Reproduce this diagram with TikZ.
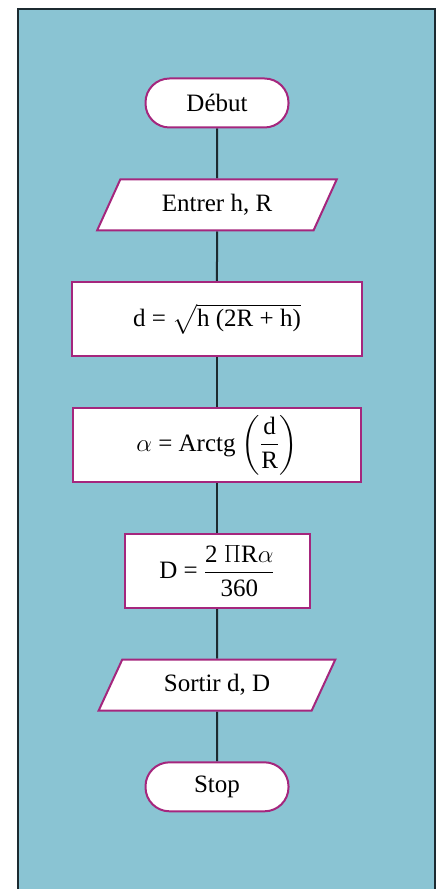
\documentclass[tikz,border=0pt]{standalone}
\usepackage{amsmath}
\usepackage{fontspec}
\setmainfont{Liberation Serif}
\usepackage{tikz}
\usetikzlibrary{positioning, shapes.geometric, backgrounds}
\definecolor{PanelBlue}{RGB}{138, 196, 211}
\definecolor{BoxMagenta}{RGB}{165, 38, 125}
\definecolor{FrameDark}{RGB}{28, 42, 48}

\begin{document}
\begin{tikzpicture}[
    node distance=49.8pt,
    font=\fontsize{25}{29}\selectfont,
    termstyle/.style={rectangle, rounded corners=24pt, draw=BoxMagenta, fill=white, line width=2pt, minimum width=143pt, minimum height=49pt, inner sep=0pt},
    iostyle/.style={trapezium, trapezium left angle=58, trapezium right angle=122, trapezium stretches=true, draw=BoxMagenta, fill=white, line width=2pt, minimum width=240pt, minimum height=51pt, inner sep=0pt},
    procstyle/.style={rectangle, draw=BoxMagenta, fill=white, line width=2pt, minimum height=74pt, inner sep=0pt},
    linkstyle/.style={line width=2pt, FrameDark}
]
    \useasboundingbox (0pt,0pt) rectangle (439pt,889pt);

    % Start / input
    \node (start) [termstyle] at (217pt,786pt) {Début};
    \node (input) [iostyle, below=of start] {Entrer h, R};

    % Calculations
    \node (dist) [procstyle, minimum width=290pt, below=of input] {d = $\sqrt{\text{h (2R + h)}}$};
    \node (angle) [procstyle, minimum width=288pt, below=of dist] {$\alpha$ = Arctg $\left(\dfrac{\text{d}}{\text{R}}\right)$};
    \node (arc) [procstyle, minimum width=185pt, below=of angle] {D = $\dfrac{\text{2 }\Pi\text{R}\alpha}{\text{360}}$};

    % Output / end
    \node (output) [iostyle, minimum width=237pt, below=of arc] {Sortir d, D};
    \node (stop) [termstyle, below=of output] {Stop};

    % Panel and connections behind the boxes
    \begin{scope}[on background layer]
        \fill [white] (0pt,0pt) rectangle (439pt,889pt);
        \draw [FrameDark, line width=2pt, fill=PanelBlue] (18pt,-5pt) rectangle (435pt,880pt);

        \draw [linkstyle] (start) -- (input);
        \draw [linkstyle] (input) -- (dist);
        \draw [linkstyle] (dist) -- (angle);
        \draw [linkstyle] (angle) -- (arc);
        \draw [linkstyle] (arc) -- (output);
        \draw [linkstyle] (output) -- (stop);
    \end{scope}

\end{tikzpicture}
\end{document}
